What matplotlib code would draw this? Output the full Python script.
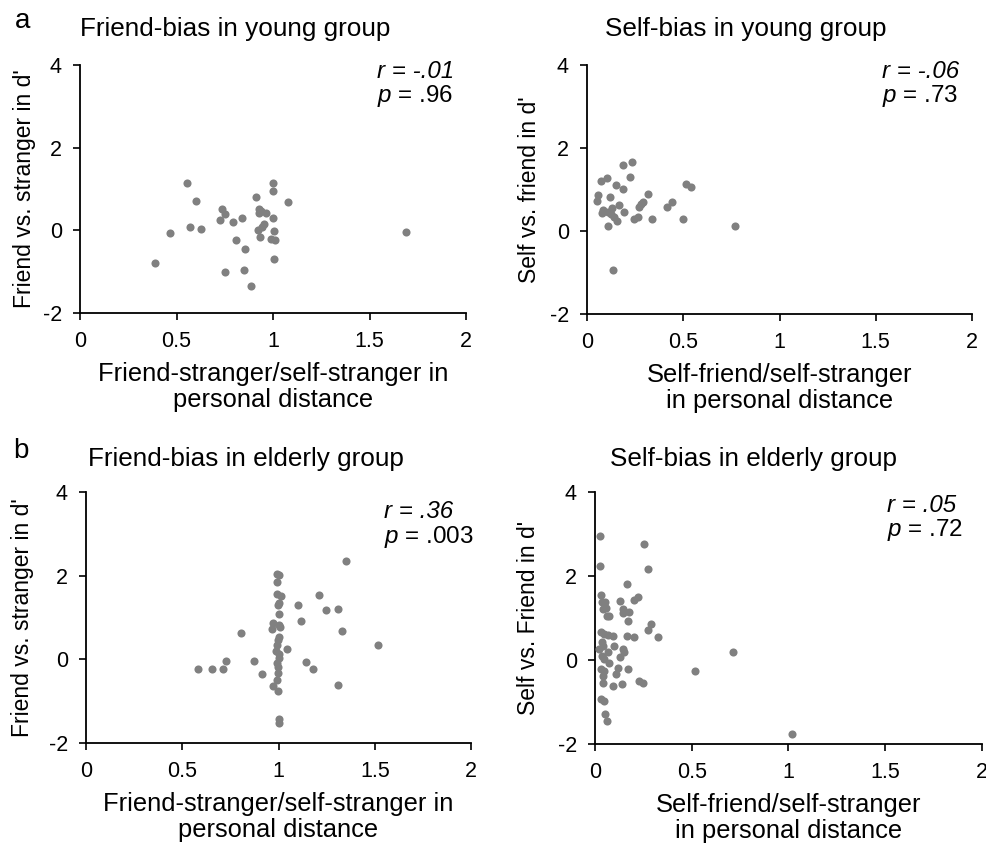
import numpy as np
import matplotlib.pyplot as plt

plt.rcParams['font.family'] = ['Liberation Sans', 'DejaVu Sans']
plt.rcParams['mathtext.fontset'] = 'custom'
plt.rcParams['mathtext.it'] = 'Liberation Sans:italic'
plt.rcParams['mathtext.rm'] = 'Liberation Sans'

# young group, friend-bias
young_friend_x = [0.556, 0.998, 1.0, 0.60, 0.914, 1.078, 0.737, 0.751, 0.725, 0.793,
                  0.838, 0.927, 0.94, 0.962, 0.929, 0.998, 0.955, 0.945, 0.924, 1.005,
                  0.931, 0.99, 1.012, 0.465, 0.57, 0.625, 0.808, 0.855, 1.005, 0.387,
                  0.85, 0.75, 0.888, 1.69]
young_friend_y = [1.15, 1.15, 0.94, 0.72, 0.80, 0.69, 0.52, 0.39, 0.25, 0.20,
                  0.31, 0.51, 0.47, 0.42, 0.42, 0.30, 0.16, 0.08, 0.01, -0.01,
                  -0.17, -0.22, -0.23, -0.07, 0.07, 0.04, -0.24, -0.44, -0.69, -0.79,
                  -0.95, -1.02, -1.34, -0.05]

# young group, self-bias
young_self_x = [0.189, 0.234, 0.071, 0.106, 0.224, 0.151, 0.189, 0.514, 0.542, 0.056,
                0.05, 0.118, 0.319, 0.29, 0.283, 0.272, 0.443, 0.418, 0.168, 0.085,
                0.129, 0.076, 0.111, 0.125, 0.139, 0.156, 0.194, 0.245, 0.264, 0.34,
                0.498, 0.108, 0.767, 0.134]
young_self_y = [1.60, 1.67, 1.21, 1.27, 1.30, 1.10, 1.01, 1.14, 1.06, 0.87,
                0.73, 0.83, 0.88, 0.70, 0.65, 0.59, 0.70, 0.57, 0.63, 0.51,
                0.55, 0.43, 0.46, 0.40, 0.33, 0.25, 0.45, 0.29, 0.33, 0.29,
                0.29, 0.13, 0.11, -0.93]

# elderly group, friend-bias
old_friend_x = [1.351, 0.992, 1.0, 0.993, 0.992, 1.013, 1.003, 0.995, 1.212, 1.099,
                1.245, 1.307, 1.0, 1.117, 1.328, 0.805, 1.515, 0.974, 1.0, 1.01,
                0.966, 1.0, 0.995, 0.993, 1.044, 0.987, 1.0, 1.0, 0.993, 0.995,
                0.995, 0.99, 0.971, 0.995, 1.0, 1.0, 0.729, 0.712, 0.655, 0.583,
                0.873, 0.916, 1.144, 1.179, 1.307]
old_friend_y = [2.35, 2.05, 2.02, 1.85, 1.57, 1.51, 1.34, 1.31, 1.53, 1.29,
                1.17, 1.21, 1.08, 0.91, 0.68, 0.62, 0.35, 0.87, 0.83, 0.78,
                0.72, 0.53, 0.46, 0.34, 0.25, 0.21, 0.13, 0.02, -0.08, -0.19,
                -0.33, -0.49, -0.64, -0.76, -1.42, -1.53, -0.04, -0.22, -0.22, -0.22,
                -0.04, -0.34, -0.06, -0.22, -0.62]

# elderly group, self-bias
old_self_x = [0.028, 0.255, 0.028, 0.272, 0.167, 0.033, 0.034, 0.05, 0.04, 0.057,
              0.064, 0.074, 0.129, 0.143, 0.143, 0.178, 0.169, 0.203, 0.224, 0.29,
              0.274, 0.326, 0.031, 0.045, 0.066, 0.095, 0.166, 0.203, 0.034, 0.022,
              0.041, 0.1, 0.067, 0.143, 0.152, 0.129, 0.036, 0.048, 0.074, 0.031,
              0.048, 0.117, 0.169, 0.109, 0.04, 0.04, 0.138, 0.095, 0.229, 0.247,
              0.031, 0.045, 0.052, 0.062, 0.519, 0.714, 1.016]
old_self_y = [2.96, 2.76, 2.24, 2.17, 1.82, 1.55, 1.39, 1.39, 1.22, 1.23,
              1.04, 1.04, 1.40, 1.22, 1.11, 1.14, 0.93, 1.44, 1.50, 0.86,
              0.72, 0.54, 0.67, 0.62, 0.60, 0.57, 0.58, 0.54, 0.42, 0.27,
              0.34, 0.34, 0.20, 0.26, 0.19, 0.08, 0.09, 0.02, -0.06, -0.22,
              -0.27, -0.19, -0.22, -0.34, -0.38, -0.54, -0.56, -0.62, -0.51, -0.54,
              -0.92, -0.98, -1.28, -1.46, -0.27, 0.18, -1.75]

titles = ["Friend-bias in young group", "Self-bias in young group",
          "Friend-bias in elderly group", "Self-bias in elderly group"]
ylabels = ["Friend vs. stranger in d'", "Self vs. friend in d'",
           "Friend vs. stranger in d'", "Self vs. Friend in d'"]
xlabels = ["Friend-stranger/self-stranger in\npersonal distance",
           "Self-friend/self-stranger\nin personal distance",
           "Friend-stranger/self-stranger in\npersonal distance",
           "Self-friend/self-stranger\nin personal distance"]
r_text = ["r = -.01", "r = -.06", "r = .36", "r = .05"]
p_text = ["$p$ = .96", "$p$ = .73", "$p$ = .003", "$p$ = .72"]

xs = [young_friend_x, young_self_x, old_friend_x, old_self_x]
ys = [young_friend_y, young_self_y, old_friend_y, old_self_y]

W, H = 987, 847
fig = plt.figure(figsize=(W / 100, H / 100), dpi=100)

# axes boxes in pixels: left, top, right, bottom
boxes = [(80, 65, 466, 313), (587, 65, 972, 314),
         (86, 492, 471, 743), (595, 492, 982, 744)]
title_pos = [(80, 36), (605, 36), (88, 466), (610, 466)]
stat_pos = [(377, 71), (882, 71), (384, 512), (887, 505)]
ylab_x = [36, 541, 34, 540]

for i in range(4):
    l, t, r, b = boxes[i]
    ax = fig.add_axes([l / W, 1 - b / H, (r - l) / W, (b - t) / H])
    ax.scatter(xs[i], ys[i], s=34, color='#808080', linewidths=0, zorder=3)
    ax.set_xlim(0, 2)
    ax.set_ylim(-2, 4)
    ax.set_xticks([0, 0.5, 1, 1.5, 2])
    ax.set_xticklabels(['0', '0.5', '1', '1.5', '2'])
    ax.set_yticks([-2, 0, 2, 4])
    ax.set_yticklabels(['-2', '0', '2', '4'])
    for side in ['top', 'right']:
        ax.spines[side].set_visible(False)
    for side in ['left', 'bottom']:
        ax.spines[side].set_linewidth(1.3)
    ax.tick_params(direction='out', length=5, width=1.2, labelsize=15.5, pad=8)
    ax.set_xlabel(xlabels[i], fontsize=18.4, labelpad=7, linespacing=1.12)
    ax.yaxis.set_label_coords((ylab_x[i] - l) / (r - l), 0.5)
    ax.set_ylabel(ylabels[i], fontsize=16.5)

    tx, ty = title_pos[i]
    fig.text(tx / W, 1 - ty / H, titles[i], fontsize=18.8, va='baseline')
    sx, sy = stat_pos[i]
    fig.text(sx / W, 1 - sy / H, r_text[i], fontsize=17.4, style='italic', va='center')
    fig.text(sx / W, 1 - (sy + 25) / H, p_text[i], fontsize=17.4, va='center')

fig.text(15 / W, 1 - 28 / H, "a", fontsize=20, va='baseline')
fig.text(13 / W, 1 - 458 / H, "b", fontsize=20, va='baseline')

fig.savefig("out.png", dpi=100)
